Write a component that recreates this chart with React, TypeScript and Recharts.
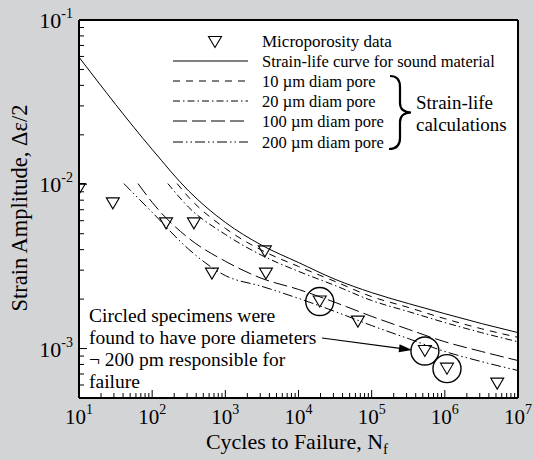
import React from 'react';
import { ComposedChart, Line, Scatter, XAxis, YAxis, CartesianGrid } from 'recharts';

const WIDTH = 533;
const HEIGHT = 460;
const SERIF = "'Liberation Serif', 'Times New Roman', serif";

// cycles to failure (N) and strain amplitude
const soundCycles = [10, 100, 316, 1e3, 3162, 1e4, 31623, 1e5, 316228, 1e6, 3162278, 1e7];
const soundStrain = [0.0594, 0.0163, 0.0091, 0.00586, 0.00425, 0.00334, 0.00264, 0.00219, 0.00188, 0.00163, 0.00142, 0.00125];

const pore10Cycles = [219, 316, 1e3, 3162, 1e4, 31623, 1e5, 316228, 1e6, 3162278, 1e7];
const pore10Strain = [0.0101, 0.00833, 0.00539, 0.00396, 0.00316, 0.00256, 0.00207, 0.00178, 0.00152, 0.00132, 0.00117];

const pore20Cycles = [164, 316, 1e3, 3162, 1e4, 31623, 1e5, 316228, 1e6, 3162278, 1e7];
const pore20Strain = [0.0101, 0.00724, 0.00495, 0.00369, 0.00295, 0.00242, 0.00196, 0.00168, 0.00144, 0.00125, 0.0011];

const pore100Cycles = [64, 100, 316, 1e3, 3162, 1e4, 31623, 1e5, 316228, 1e6, 3162278, 1e7];
const pore100Strain = [0.0101, 0.00776, 0.00469, 0.0034, 0.00267, 0.00229, 0.00191, 0.00157, 0.00131, 0.0011, 0.00096, 0.000845];

const pore200Cycles = [41, 100, 316, 1e3, 3162, 1e4, 31623, 1e5, 316228, 1e6, 3162278, 1e7];
const pore200Strain = [0.0101, 0.00675, 0.00402, 0.00278, 0.00239, 0.00202, 0.00168, 0.00138, 0.00115, 0.00096, 0.000833, 0.000735];

const testCycles = [10, 29, 155, 372, 656, 3470, 3590, 19500, 64800, 534000, 1070000, 5200000];
const testStrain = [0.0095, 0.00776, 0.00586, 0.00586, 0.0029, 0.00396, 0.0029, 0.00196, 0.00148, 0.00098, 0.000765, 0.00062];

const circledCycles = [19500, 534000, 1070000];
const circledStrain = [0.00196, 0.00098, 0.000765];

const xMajorTicks = [10, 100, 1e3, 1e4, 1e5, 1e6, 1e7];
const yMajorTicks = [1e-3, 1e-2, 1e-1];
const minorSteps = [2, 3, 4, 5, 6, 7, 8, 9];

const xTicks = xMajorTicks
  .flatMap((d, i) => (i < xMajorTicks.length - 1 ? [d, ...minorSteps.map((m) => m * d)] : [d]));
const yTicks = [5e-4, 6e-4, 7e-4, 8e-4, 9e-4]
  .concat(yMajorTicks.flatMap((d, i) => (i < yMajorTicks.length - 1 ? [d, ...minorSteps.map((m) => m * d)] : [d])));

const zip = (n: number[], s: number[]) => n.map((v, i) => ({ n: v, s: s[i] }));

const curves = [
  { key: 'sound', name: 'Strain-life curve for sound material', dash: undefined, data: zip(soundCycles, soundStrain) },
  { key: 'p10', name: '10 \u00b5m diam pore', dash: '7 6', data: zip(pore10Cycles, pore10Strain) },
  { key: 'p20', name: '20 \u00b5m diam pore', dash: '7 3 1.5 3', data: zip(pore20Cycles, pore20Strain) },
  { key: 'p100', name: '100 \u00b5m diam pore', dash: '14 5', data: zip(pore100Cycles, pore100Strain) },
  { key: 'p200', name: '200 \u00b5m diam pore', dash: '10 3 1.5 3 1.5 3', data: zip(pore200Cycles, pore200Strain) },
];

const testData = zip(testCycles, testStrain);
const circledData = zip(circledCycles, circledStrain);

const isMajor = (v: number, majors: number[]) => majors.some((m) => Math.abs(m - v) < m * 1e-6);

const serifStyle = { fontFamily: SERIF };

const XTick = (props: any) => {
  const { x, y, payload } = props;
  const major = isMajor(payload.value, xMajorTicks);
  const e = Math.round(Math.log10(payload.value));
  return (
    <g>
      <line x1={x} x2={x} y1={y} y2={y - (major ? 8 : 5)} stroke="#000" strokeWidth={1} />
      {major && (
        <text x={x} y={y + 26} textAnchor="middle" style={serifStyle} fontSize={21} fill="#000">
          10<tspan dy={-10} fontSize={14}>{e}</tspan>
        </text>
      )}
    </g>
  );
};

const YTick = (props: any) => {
  const { x, y, payload } = props;
  const major = isMajor(payload.value, yMajorTicks);
  const e = Math.round(Math.log10(payload.value));
  return (
    <g>
      <line x1={x} x2={x + (major ? 8 : 5)} y1={y} y2={y} stroke="#000" strokeWidth={1} />
      {major && (
        <text x={x - 6} y={y + 8} textAnchor="end" style={serifStyle} fontSize={22} fill="#000">
          10<tspan dy={-10} fontSize={14}>{e}</tspan>
        </text>
      )}
    </g>
  );
};

const Triangle = (props: any) => {
  const { cx, cy } = props;
  return (
    <polygon
      points={`${cx - 6.5},${cy - 4.5} ${cx + 6.5},${cy - 4.5} ${cx},${cy + 6.5}`}
      fill="none"
      stroke="#000"
      strokeWidth={1.1}
    />
  );
};

const Ring = (props: any) => {
  const { cx, cy } = props;
  return <circle cx={cx} cy={cy + 1} r={14} fill="none" stroke="#000" strokeWidth={1.4} />;
};

const Overlay = () => {
  const rowY = [61, 81, 101, 121, 142];
  return (
    <svg width={WIDTH} height={HEIGHT} style={{ position: 'absolute', left: 0, top: 0, pointerEvents: 'none' }}>
      <g style={serifStyle} fill="#000">
        {/* legend */}
        <Triangle cx={215} cy={41} />
        <text x={262} y={47} fontSize={17}>Microporosity data</text>
        {curves.map((c, i) => (
          <g key={c.key}>
            <line x1={173} x2={248} y1={rowY[i]} y2={rowY[i]} stroke="#000" strokeWidth={1} strokeDasharray={c.dash} />
            <text x={262} y={rowY[i] + 5.5} fontSize={16.5}>{c.name}</text>
          </g>
        ))}
        <path
          d="M 390 76 Q 400 76 400 87 L 400 103 Q 400 112 411 112.5 Q 400 113 400 122 L 400 138 Q 400 149 389 149"
          fill="none"
          stroke="#000"
          strokeWidth={2.2}
        />
        <text x={416} y={109} fontSize={19}>Strain-life</text>
        <text x={416} y={131} fontSize={19}>calculations</text>

        {/* annotation */}
        <text x={89} y={322} fontSize={19.5}>Circled specimens were</text>
        <text x={89} y={344} fontSize={19.5}>found to have pore diameters</text>
        <text x={89} y={366} fontSize={19.5}>{'\u00ac 200 pm responsible for'}</text>
        <text x={89} y={388} fontSize={19.5}>failure</text>
        <line x1={322} y1={338} x2={400} y2={348.4} stroke="#000" strokeWidth={1.2} />
        <polygon points="412,350 398.6,352.3 399.6,344.3" fill="#000" />

        {/* axis titles */}
        <text x={297} y={449} textAnchor="middle" fontSize={22}>
          Cycles to Failure, N<tspan dy={5} fontSize={15}>f</tspan>
        </text>
        <text x={27} y={208} textAnchor="middle" fontSize={22.5} transform="rotate(-90 27 208)">
          {'Strain Amplitude, \u0394\u03b5/2'}
        </text>
      </g>
    </svg>
  );
};

export default function App() {
  return (
    <div style={{ position: 'absolute', left: 0, top: 0, width: WIDTH, height: HEIGHT, background: '#d3d4d6' }}>
      <ComposedChart width={WIDTH} height={HEIGHT} margin={{ top: 0, right: 0, bottom: 0, left: 0 }}>
        <CartesianGrid fill="#fff" horizontal={false} vertical={false} />
        <XAxis
          dataKey="n"
          type="number"
          scale="log"
          domain={[10, 1e7]}
          allowDataOverflow
          ticks={xTicks}
          interval={0}
          tick={<XTick />}
          tickLine={false}
          tickSize={0}
          tickMargin={0}
          height={62}
          axisLine={{ stroke: '#000', strokeWidth: 2 }}
        />
        <XAxis
          xAxisId="top"
          orientation="top"
          type="number"
          scale="log"
          domain={[10, 1e7]}
          allowDataOverflow
          tick={false}
          tickLine={false}
          height={20}
          axisLine={{ stroke: '#000', strokeWidth: 2 }}
        />
        <YAxis
          dataKey="s"
          type="number"
          scale="log"
          domain={[5e-4, 0.1]}
          allowDataOverflow
          ticks={yTicks}
          interval={0}
          tick={<YTick />}
          tickLine={false}
          tickSize={0}
          tickMargin={0}
          width={79}
          axisLine={{ stroke: '#000', strokeWidth: 2 }}
        />
        <YAxis
          yAxisId="right"
          orientation="right"
          type="number"
          scale="log"
          domain={[5e-4, 0.1]}
          allowDataOverflow
          tick={false}
          tickLine={false}
          width={15}
          axisLine={{ stroke: '#000', strokeWidth: 2 }}
        />
        {curves.map((c) => (
          <Line
            key={c.key}
            data={c.data}
            dataKey="s"
            type="monotone"
            stroke="#000"
            strokeWidth={1}
            strokeDasharray={c.dash}
            dot={false}
            activeDot={false}
            isAnimationActive={false}
          />
        ))}
        <Scatter data={testData} dataKey="s" shape={<Triangle />} isAnimationActive={false} />
        <Scatter data={circledData} dataKey="s" shape={<Ring />} isAnimationActive={false} />
      </ComposedChart>
      <Overlay />
    </div>
  );
}
